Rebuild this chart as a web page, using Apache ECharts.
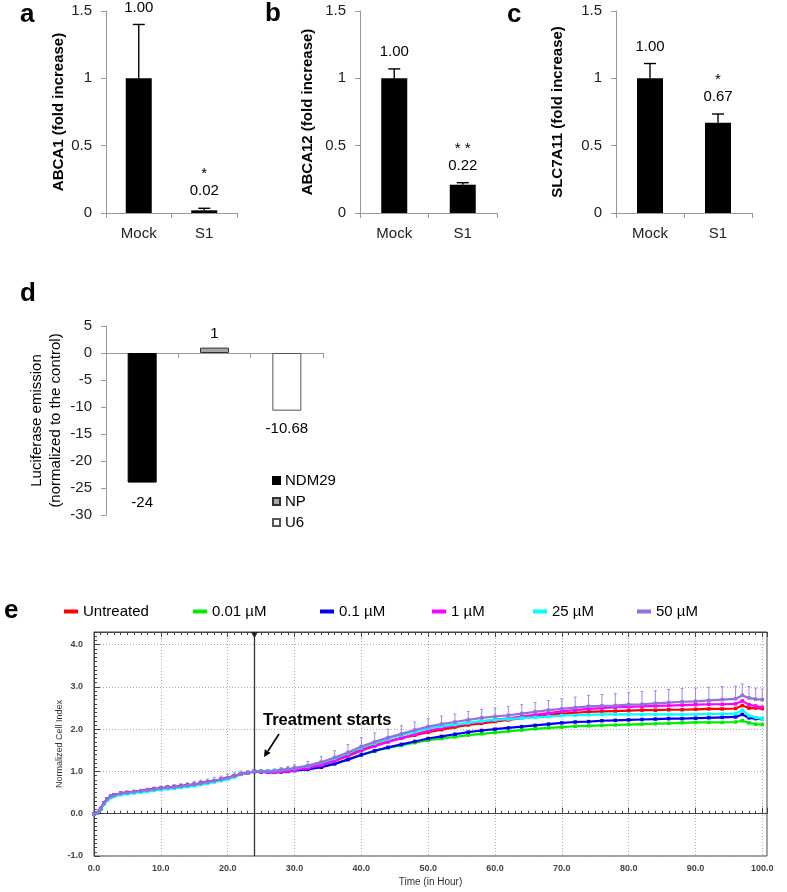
<!DOCTYPE html>
<html><head><meta charset="utf-8">
<script src="https://cdn.jsdelivr.net/npm/echarts@6/dist/echarts.min.js"></script>
<style>html,body{margin:0;padding:0;background:#fff}#c{width:787px;height:892px}</style>
</head><body><div id="c"></div><script>
// ---------------- DATA ----------------
const barCategories = ['Mock', 'S1'];
const abca1Values = [1.00, 0.02];
const abca1Errors = [0.40, 0.015];
const abca1Labels = ['1.00', '0.02'];
const abca1Stars = ['', '*'];
const abca12Values = [1.00, 0.21];
const abca12Errors = [0.07, 0.015];
const abca12Labels = ['1.00', '0.22'];
const abca12Stars = ['', '* *'];
const slc7a11Values = [1.00, 0.67];
const slc7a11Errors = [0.11, 0.065];
const slc7a11Labels = ['1.00', '0.67'];
const slc7a11Stars = ['', '*'];
const foldTicks = [0, 0.5, 1, 1.5];

const lucCategories = ['NDM29', 'NP', 'U6'];
const lucValues = [-24, 1, -10.68];
const lucTicks = [5, 0, -5, -10, -15, -20, -25, -30];

const rtcaNames = ['Untreated', '0.01 µM', '0.1 µM', '1 µM', '25 µM', '50 µM'];
const preTimes = [0, 0.5, 1, 1.5, 2, 2.5, 3, 4, 5, 6, 7, 8, 9, 10, 11, 12, 13, 14, 15, 16, 17, 18, 19, 20, 21, 22, 23, 24];
const preBase = [0, 0.02, 0.12, 0.25, 0.35, 0.41, 0.44, 0.48, 0.50, 0.52, 0.54, 0.56, 0.58, 0.60, 0.62, 0.63, 0.65, 0.67, 0.69, 0.72, 0.75, 0.78, 0.81, 0.85, 0.89, 0.94, 0.97, 1.00];
const preCyan = [0, 0.01, 0.10, 0.22, 0.32, 0.38, 0.41, 0.45, 0.47, 0.49, 0.51, 0.53, 0.55, 0.57, 0.59, 0.60, 0.62, 0.64, 0.66, 0.69, 0.72, 0.75, 0.78, 0.82, 0.87, 0.93, 0.97, 1.00];
const postTimes = [25, 26, 27, 28, 29, 30, 32, 34, 36, 38, 40, 42, 44, 46, 48, 50, 52, 54, 56, 58, 60, 62, 64, 66, 68, 70, 72, 74, 76, 78, 80, 82, 84, 86, 88, 90, 92, 94, 96, 97, 98, 99, 100];
const postUntreated = [1.00,1.00,1.01,1.03,1.05,1.07, 1.12,1.19,1.29,1.40,1.52,1.62,1.71,1.79,1.86,1.93, 1.99,2.05,2.10,2.14,2.18, 2.22,2.26,2.30,2.34,2.37, 2.39,2.41,2.42,2.43,2.44, 2.45,2.45,2.46,2.46,2.47, 2.48,2.48,2.49, 2.56,2.50,2.50,2.49];
const post001 = [0.99,0.99,0.99,1.00,1.01,1.03, 1.06,1.11,1.19,1.29,1.40,1.48,1.56,1.62,1.68,1.74, 1.78,1.82,1.86,1.89,1.92, 1.95,1.98,2.01,2.03,2.05, 2.07,2.08,2.09,2.10,2.11, 2.12,2.13,2.14,2.15,2.16, 2.16,2.16,2.17, 2.20,2.15,2.12,2.11];
const post01 = [0.99,0.98,0.98,0.99,1.00,1.02, 1.05,1.10,1.18,1.28,1.39,1.49,1.57,1.64,1.71,1.78, 1.83,1.88,1.93,1.97,2.00, 2.03,2.06,2.09,2.12,2.15, 2.17,2.18,2.20,2.21,2.22, 2.23,2.24,2.25,2.25,2.26, 2.27,2.28,2.29, 2.35,2.27,2.25,2.25];
const post1 = [1.00,0.99,0.98,0.99,1.01,1.03, 1.08,1.15,1.25,1.36,1.49,1.60,1.70,1.79,1.88,1.96, 2.03,2.09,2.14,2.18,2.22, 2.26,2.30,2.34,2.38,2.42, 2.45,2.48,2.50,2.52,2.53, 2.54,2.55,2.56,2.57,2.58, 2.59,2.59,2.60, 2.67,2.58,2.55,2.52];
const post25 = [1.01,1.01,1.02,1.03,1.05,1.07, 1.13,1.21,1.31,1.43,1.56,1.67,1.77,1.86,1.94,2.02, 2.07,2.11,2.15,2.19,2.22, 2.24,2.26,2.28,2.30,2.32, 2.33,2.34,2.35,2.35,2.35, 2.35,2.35,2.35,2.35,2.35, 2.36,2.36,2.37, 2.45,2.32,2.28,2.25];
const post50 = [1.00,1.00,1.01,1.03,1.05,1.08, 1.14,1.22,1.33,1.45,1.59,1.70,1.80,1.89,1.98,2.06, 2.12,2.17,2.22,2.27,2.30, 2.33,2.37,2.41,2.45,2.48, 2.51,2.54,2.55,2.56,2.58, 2.59,2.61,2.63,2.65,2.66, 2.68,2.70,2.72, 2.80,2.74,2.71,2.70];
const preErr50 = [0,0,0.02,0.02,0.02,0.02,0.03,0.03,0.03,0.04,0.04,0.04,0.05,0.05,0.05,0.06,0.06,0.06,0.07,0.07,0.07,0.08,0.08,0.08,0.08,0.07,0.05,0.03];
const postErr50 = [0.03,0.04,0.05,0.06,0.07,0.08, 0.10,0.13,0.16,0.19,0.21,0.21,0.20,0.19,0.19,0.19, 0.19,0.19,0.20,0.20,0.20, 0.21,0.21,0.22,0.23,0.24, 0.25,0.26,0.27,0.28,0.29, 0.30,0.30,0.31,0.31,0.31, 0.31,0.31,0.30, 0.27,0.27,0.26,0.25];
const treatmentTime = 24;
const timeTicks = [0, 10, 20, 30, 40, 50, 60, 70, 80, 90, 100];
const cellIndexTicks = [-1, 0, 1, 2, 3, 4];

// ---------------- STYLE ----------------
const FONT = 'Liberation Sans, Arial, sans-serif';
const NARROW = 'Liberation Sans Narrow, Arial Narrow, Liberation Sans, sans-serif';
const rtcaColors = ['#ff0000', '#00ee00', '#0000ee', '#ff00ff', '#00ffff', '#9370db'];

const chart = echarts.init(document.getElementById('c'), null, {renderer: 'canvas'});

function foldErrorRenderer(values, errors, labels, stars) {
  return function (params, api) {
    const i = params.dataIndex;
    const base = api.coord([i, values[i]]);
    const top = api.coord([i, values[i] + errors[i]]);
    const st = {stroke: '#000', lineWidth: 1.4};
    const cap = 6;
    const children = [
      {type: 'line', shape: {x1: base[0], y1: base[1], x2: top[0], y2: top[1]}, style: st},
      {type: 'line', shape: {x1: top[0] - cap, y1: top[1], x2: top[0] + cap, y2: top[1]}, style: st},
      {type: 'text', style: {text: labels[i], x: top[0], y: top[1] - 17, font: '15px ' + FONT, fill: '#000', textAlign: 'center', textVerticalAlign: 'middle'}}
    ];
    if (stars[i]) children.push({type: 'text', style: {text: stars[i], x: top[0], y: top[1] - 34, font: '15px ' + FONT, fill: '#000', textAlign: 'center', textVerticalAlign: 'middle'}});
    return {type: 'group', children};
  };
}

function foldYAxis(gi, name, gap) {
  return {
    type: 'value', gridIndex: gi, min: foldTicks[0], max: foldTicks[foldTicks.length - 1], interval: 0.5,
    name: name, nameLocation: 'middle', nameGap: gap, nameRotate: 90,
    nameTextStyle: {fontFamily: FONT, fontSize: 15, fontWeight: 'bold', color: '#000'},
    axisLine: {show: true, lineStyle: {color: '#999', width: 1}},
    axisTick: {show: true, length: 5, lineStyle: {color: '#999'}},
    axisLabel: {fontFamily: FONT, fontSize: 15, color: '#222', margin: 14},
    splitLine: {show: false}
  };
}
function foldXAxis(gi) {
  return {
    type: 'category', gridIndex: gi, data: barCategories,
    axisLine: {show: true, lineStyle: {color: '#999'}},
    axisTick: {show: true, length: 5, lineStyle: {color: '#999'}},
    axisLabel: {fontFamily: FONT, fontSize: 15, color: '#222', margin: 13}
  };
}

const zip = (t, v) => t.map((x, i) => [x, v[i]]);
const rtcaPosts = [postUntreated, post001, post01, post1, post25, post50];
const rtcaSeries = rtcaNames.map((n, k) => ({
  type: 'line', name: n, xAxisIndex: 4, yAxisIndex: 4,
  data: zip(preTimes, k === 4 ? preCyan : preBase).concat(zip(postTimes, rtcaPosts[k])),
  symbol: 'rect', symbolSize: 3.5, showSymbol: true,
  lineStyle: {width: 2.2, color: rtcaColors[k]}, itemStyle: {color: rtcaColors[k]},
  z: 3 + k, silent: true
}));
rtcaSeries[0].markLine = {
  silent: true, symbol: 'none', label: {show: false},
  lineStyle: {color: '#333', type: 'solid', width: 1.3},
  data: [{xAxis: treatmentTime}]
};
rtcaSeries[0].markPoint = {
  silent: true, symbol: 'triangle', symbolRotate: 180, symbolSize: [7, 6], symbolOffset: [0, 3],
  itemStyle: {color: '#222'}, label: {show: false},
  data: [{coord: [treatmentTime, 4.3]}]
};

const allTimes = preTimes.concat(postTimes);
const vals50 = preBase.concat(post50);
const errs50 = preErr50.concat(postErr50);

const legendItemsE = [64, 193, 320, 432, 533, 637].map((x, k) => ({
  data: [rtcaNames[k]], left: x, top: 604, padding: 0, icon: 'rect', itemWidth: 14, itemHeight: 4,
  textStyle: {fontFamily: NARROW, fontSize: 15, color: '#000'}, selectedMode: false
}));

const option = {
  animation: false,
  backgroundColor: '#fff',
  textStyle: {fontFamily: FONT},
  grid: [
    {left: 106, top: 11, width: 131, height: 202, outerBoundsMode: 'none'},
    {left: 360, top: 11, width: 137, height: 202, outerBoundsMode: 'none'},
    {left: 616, top: 11, width: 136, height: 202, outerBoundsMode: 'none'},
    {left: 106, top: 326, width: 217, height: 189, outerBoundsMode: 'none'},
    {left: 94, top: 632, width: 673, height: 224, show: true, borderColor: '#444', borderWidth: 1, backgroundColor: 'transparent', outerBoundsMode: 'none'}
  ],
  xAxis: [
    foldXAxis(0), foldXAxis(1), foldXAxis(2),
    {type: 'category', gridIndex: 3, data: lucCategories,
     axisLine: {show: true, onZero: true, lineStyle: {color: '#999'}},
     axisTick: {show: true, length: 5, lineStyle: {color: '#999'}},
     axisLabel: {show: false}},
    {type: 'value', gridIndex: 4, min: 0, max: 100.7, interval: 10,
     name: 'Time (in Hour)', nameLocation: 'middle', nameGap: 21,
     nameTextStyle: {fontFamily: FONT, fontSize: 10, color: '#333'},
     axisLine: {show: true, lineStyle: {color: '#444'}},
     axisTick: {show: true, inside: true, length: 6, lineStyle: {color: '#444'}},
     minorTick: {show: true, splitNumber: 10, length: 3, lineStyle: {color: '#444'}},
     axisLabel: {fontFamily: FONT, fontSize: 9, fontWeight: 'bold', color: '#444', margin: 8,
                 formatter: v => (timeTicks.indexOf(v) >= 0 ? v.toFixed(1) : '')},
     splitLine: {show: true, lineStyle: {color: '#aaa', type: [1, 2], width: 1}}},
    {type: 'value', gridIndex: 4, position: 'top', min: 0, max: 100.7, interval: 10,
     axisLine: {show: true, lineStyle: {color: '#444'}},
     axisTick: {show: true, inside: true, length: 5, lineStyle: {color: '#444'}},
     minorTick: {show: true, splitNumber: 10, length: 3, lineStyle: {color: '#444'}},
     axisLabel: {show: false}, splitLine: {show: false}}
  ],
  yAxis: [
    foldYAxis(0, 'ABCA1 (fold increase)', 40),
    foldYAxis(1, 'ABCA12 (fold increase)', 45),
    foldYAxis(2, 'SLC7A11 (fold increase)', 51),
    {type: 'value', gridIndex: 3, min: -30, max: 5, interval: 5,
     name: 'Luciferase emission\n(normalized to the control)', nameLocation: 'middle', nameGap: 41, nameRotate: 90,
     nameTextStyle: {fontFamily: FONT, fontSize: 15, color: '#000', lineHeight: 19},
     axisLine: {show: true, lineStyle: {color: '#999'}},
     axisTick: {show: true, length: 5, lineStyle: {color: '#999'}},
     axisLabel: {fontFamily: FONT, fontSize: 15, color: '#222', margin: 14},
     splitLine: {show: false}},
    {type: 'value', gridIndex: 4, min: -1, max: 4.3, interval: 1,
     name: 'Normalized Cell Index', nameLocation: 'middle', nameGap: 30, nameRotate: 90, nameMoveOverlap: false,
     nameTextStyle: {fontFamily: FONT, fontSize: 9, color: '#333'},
     axisLine: {show: true, lineStyle: {color: '#444'}},
     axisTick: {show: true, inside: true, length: 6, lineStyle: {color: '#444'}},
     minorTick: {show: true, splitNumber: 10, length: 3, lineStyle: {color: '#444'}},
     axisLabel: {fontFamily: FONT, fontSize: 9, fontWeight: 'bold', color: '#444', margin: 11,
                 formatter: v => (cellIndexTicks.indexOf(v) >= 0 ? v.toFixed(1) : '')},
     splitLine: {show: true, lineStyle: {color: '#aaa', type: [1, 2], width: 1}}}
  ],
  legend: [
    {data: lucCategories, orient: 'vertical', left: 272, top: 473, padding: 0, itemGap: 6,
     itemWidth: 7, itemHeight: 7, icon: 'rect', selectedMode: false,
     textStyle: {fontFamily: FONT, fontSize: 15, color: '#000'}}
  ].concat(legendItemsE),
  series: [
    {type: 'bar', xAxisIndex: 0, yAxisIndex: 0, data: abca1Values, barWidth: 26, itemStyle: {color: '#000'}, silent: true},
    {type: 'custom', xAxisIndex: 0, yAxisIndex: 0, data: abca1Values.map((v, i) => [i, v]), renderItem: foldErrorRenderer(abca1Values, abca1Errors, abca1Labels, abca1Stars), z: 5, silent: true},
    {type: 'bar', xAxisIndex: 1, yAxisIndex: 1, data: abca12Values, barWidth: 26, itemStyle: {color: '#000'}, silent: true},
    {type: 'custom', xAxisIndex: 1, yAxisIndex: 1, data: abca12Values.map((v, i) => [i, v]), renderItem: foldErrorRenderer(abca12Values, abca12Errors, abca12Labels, abca12Stars), z: 5, silent: true},
    {type: 'bar', xAxisIndex: 2, yAxisIndex: 2, data: slc7a11Values, barWidth: 26, itemStyle: {color: '#000'}, silent: true},
    {type: 'custom', xAxisIndex: 2, yAxisIndex: 2, data: slc7a11Values.map((v, i) => [i, v]), renderItem: foldErrorRenderer(slc7a11Values, slc7a11Errors, slc7a11Labels, slc7a11Stars), z: 5, silent: true},
    {type: 'bar', name: 'NDM29', xAxisIndex: 3, yAxisIndex: 3, data: [lucValues[0], '-', '-'], barWidth: 29, barGap: '-100%',
     itemStyle: {color: '#000', borderColor: '#000', borderWidth: 1},
     label: {show: true, position: 'bottom', distance: 13, fontFamily: FONT, fontSize: 15, color: '#000'}, silent: true},
    {type: 'bar', name: 'NP', xAxisIndex: 3, yAxisIndex: 3, data: ['-', lucValues[1], '-'], barWidth: 29, barGap: '-100%',
     itemStyle: {color: '#a6a6a6', borderColor: '#333', borderWidth: 1},
     label: {show: true, position: 'top', distance: 6, fontFamily: FONT, fontSize: 15, color: '#000'}, silent: true},
    {type: 'bar', name: 'U6', xAxisIndex: 3, yAxisIndex: 3, data: ['-', '-', lucValues[2]], barWidth: 29, barGap: '-100%',
     itemStyle: {color: '#fff', borderColor: '#555', borderWidth: 1},
     label: {show: true, position: 'bottom', distance: 11, fontFamily: FONT, fontSize: 15, color: '#000'}, silent: true},
    {type: 'custom', xAxisIndex: 4, yAxisIndex: 4, silent: true, z: 2,
     data: allTimes.map((t, i) => [t, vals50[i], errs50[i]]),
     renderItem: function (params, api) {
       const p0 = api.coord([api.value(0), api.value(1)]);
       const p1 = api.coord([api.value(0), api.value(1) + api.value(2)]);
       return {type: 'group', children: [
         {type: 'line', shape: {x1: p0[0], y1: p0[1], x2: p1[0], y2: p1[1]}, style: {stroke: '#9c8ae8', lineWidth: 1}},
         {type: 'line', shape: {x1: p1[0] - 1.5, y1: p1[1], x2: p1[0] + 1.5, y2: p1[1]}, style: {stroke: '#9c8ae8', lineWidth: 1}}
       ]};
     }}
  ].concat(rtcaSeries),
  graphic: [
    {type: 'text', style: {text: 'a', x: 20, y: 15, font: 'bold 26px ' + FONT, fill: '#000', textVerticalAlign: 'middle'}},
    {type: 'text', style: {text: 'b', x: 265, y: 14, font: 'bold 26px ' + FONT, fill: '#000', textVerticalAlign: 'middle'}},
    {type: 'text', style: {text: 'c', x: 507, y: 15, font: 'bold 26px ' + FONT, fill: '#000', textVerticalAlign: 'middle'}},
    {type: 'text', style: {text: 'd', x: 20, y: 294, font: 'bold 26px ' + FONT, fill: '#000', textVerticalAlign: 'middle'}},
    {type: 'text', style: {text: 'e', x: 4, y: 611, font: 'bold 26px ' + FONT, fill: '#000', textVerticalAlign: 'middle'}},
    {type: 'text', z: 20, style: {text: 'Treatment starts', x: 263, y: 720, font: 'bold 16.5px ' + FONT, fill: '#000', textVerticalAlign: 'middle'}},
    {type: 'line', z: 20, shape: {x1: 279, y1: 734, x2: 268, y2: 751}, style: {stroke: '#000', lineWidth: 1.6}},
    {type: 'polygon', z: 20, shape: {points: [[264, 757], [270.7, 752.9], [264.7, 749.2]]}, style: {fill: '#000'}}
  ]
};
chart.setOption(option);
</script></body></html>
